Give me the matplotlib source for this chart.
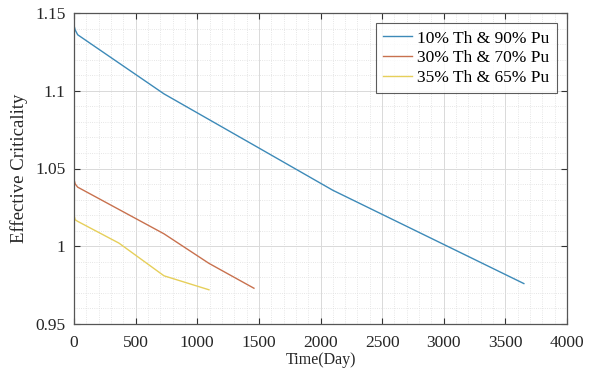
import matplotlib
matplotlib.use("Agg")
import matplotlib.pyplot as plt
from matplotlib.ticker import MultipleLocator

plt.rcParams['font.family'] = ['Liberation Serif', 'DejaVu Serif']

# Burnup time (days) and k-eff for each fuel mix
days_a = [0, 10, 30, 730, 1460, 2100, 3650]
keff_a = [1.142, 1.139, 1.136, 1.098, 1.065, 1.036, 0.976]

days_b = [0, 10, 30, 730, 1095, 1460]
keff_b = [1.043, 1.040, 1.038, 1.008, 0.989, 0.973]

days_c = [0, 10, 30, 365, 730, 1095]
keff_c = [1.020, 1.017, 1.016, 1.002, 0.981, 0.972]

labels = ['10% Th & 90% Pu', '30% Th & 70% Pu', '35% Th & 65% Pu']
colors = ['#3d8ab8', '#c8714e', '#e6cf5a']

fig = plt.figure(figsize=(5.92, 3.74), dpi=100)
ax = fig.add_axes([74 / 592, 1 - 324 / 374, (567 - 74) / 592, (324 - 13) / 374])

for d, k, lab, c in zip([days_a, days_b, days_c], [keff_a, keff_b, keff_c], labels, colors):
    ax.plot(d, k, color=c, lw=1.0, label=lab)

ax.set_xlim(0, 4000)
ax.set_ylim(0.95, 1.15)
ax.xaxis.set_major_locator(MultipleLocator(500))
ax.xaxis.set_minor_locator(MultipleLocator(100))
ax.yaxis.set_major_locator(MultipleLocator(0.05))
ax.yaxis.set_minor_locator(MultipleLocator(0.01))
ax.set_yticks([0.95, 1.0, 1.05, 1.1, 1.15])
ax.set_yticklabels(['0.95', '1', '1.05', '1.1', '1.15'])

ax.grid(which='major', color='#d9d9d9', lw=0.7)
ax.grid(which='minor', color='#dedede', lw=0.6, ls=':')
ax.set_axisbelow(True)
ax.tick_params(which='both', direction='in', top=True, right=True, labelsize=12.5, colors='#333333', labelcolor='#262626')
ax.tick_params(which='minor', length=0)
ax.tick_params(which='major', length=4)
ax.tick_params(axis='x', pad=8)
ax.tick_params(axis='y', pad=6)
for s in ax.spines.values():
    s.set_color('#555555')
    s.set_linewidth(0.9)

ax.set_xlabel('Time(Day)', fontsize=11.5, color='#262626', labelpad=1)
ax.set_ylabel('Effective Criticality', fontsize=13.5, color='#262626', labelpad=5)

leg = ax.legend(loc='upper right', fontsize=12.5, frameon=True, fancybox=False,
                edgecolor='#333333', handlelength=1.7, handletextpad=0.3,
                borderpad=0.4, labelspacing=0.22, borderaxespad=0.6)
leg.get_frame().set_linewidth(0.8)

fig.savefig('out.png', dpi=100)
